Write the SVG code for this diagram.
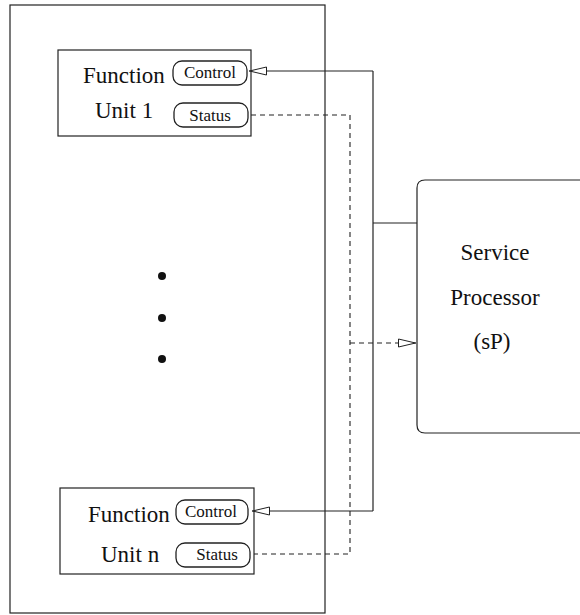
<svg xmlns="http://www.w3.org/2000/svg" width="580" height="615" viewBox="0 0 580 615">
<style>
.box{fill:none;stroke:#222;stroke-width:1.2}
.pill{fill:#fff;stroke:#222;stroke-width:1.3}
.t{font-family:"Liberation Serif","Times New Roman",serif;fill:#111}
.big{font-size:23px}
.sm{font-size:17px}
.solid{fill:none;stroke:#222;stroke-width:1.2}
.dash{fill:none;stroke:#222;stroke-width:1.1;stroke-dasharray:5,4}
</style>
<defs>
<marker id="tri" viewBox="0 0 18 10" refX="18" refY="5" markerWidth="18" markerHeight="10" markerUnits="userSpaceOnUse" orient="auto">
<path d="M0.5,1 L17.5,5 L0.5,9 Z" fill="#fff" stroke="#222" stroke-width="1"/>
</marker>
</defs>
<rect width="580" height="615" fill="#fff"/>
<g id="container">
<rect class="box" x="10" y="5" width="315" height="608"/>
</g>
<g id="unit1">
<rect class="box" x="58" y="50" width="193" height="86"/>
<text class="t big" x="83" y="83">Function</text>
<text class="t big" x="95" y="118">Unit 1</text>
<rect class="pill" x="173" y="61" width="74" height="24" rx="9"/>
<text class="t sm" x="210" y="78" text-anchor="middle">Control</text>
<rect class="pill" x="174" y="103" width="74" height="24" rx="9"/>
<text class="t sm" x="210" y="121" text-anchor="middle">Status</text>
</g>
<g id="dots">
<circle cx="162" cy="276" r="4" fill="#111"/>
<circle cx="162" cy="318" r="4" fill="#111"/>
<circle cx="162" cy="359" r="4" fill="#111"/>
</g>
<g id="unitn">
<rect class="box" x="60" y="488" width="194" height="86"/>
<text class="t big" x="88" y="522">Function</text>
<text class="t big" x="101" y="562">Unit n</text>
<rect class="pill" x="176" y="500" width="72" height="24" rx="9"/>
<text class="t sm" x="211" y="517" text-anchor="middle">Control</text>
<rect class="pill" x="176" y="543" width="74" height="24" rx="9"/>
<text class="t sm" x="217" y="560" text-anchor="middle">Status</text>
</g>
<g id="sp">
<path class="box" d="M590,180 L425,180 Q417,180 417,188 L417,425 Q417,433 425,433 L590,433"/>
<text class="t big" x="495" y="260" text-anchor="middle">Service</text>
<text class="t big" x="495" y="305" text-anchor="middle">Processor</text>
<text class="t big" x="492" y="349" text-anchor="middle">(sP)</text>
</g>
<g id="connectors">
<path class="solid" d="M373,71 L373,511"/>
<path class="solid" d="M373,71 L249,71" marker-end="url(#tri)"/>
<path class="solid" d="M373,511 L252,511" marker-end="url(#tri)"/>
<path class="solid" d="M373,223 L417,223"/>
<path class="dash" d="M251,115 L350,115 L350,554 L254,554"/>
<path class="dash" d="M350,343 L416,343" marker-end="url(#tri)"/>
</g>
</svg>
